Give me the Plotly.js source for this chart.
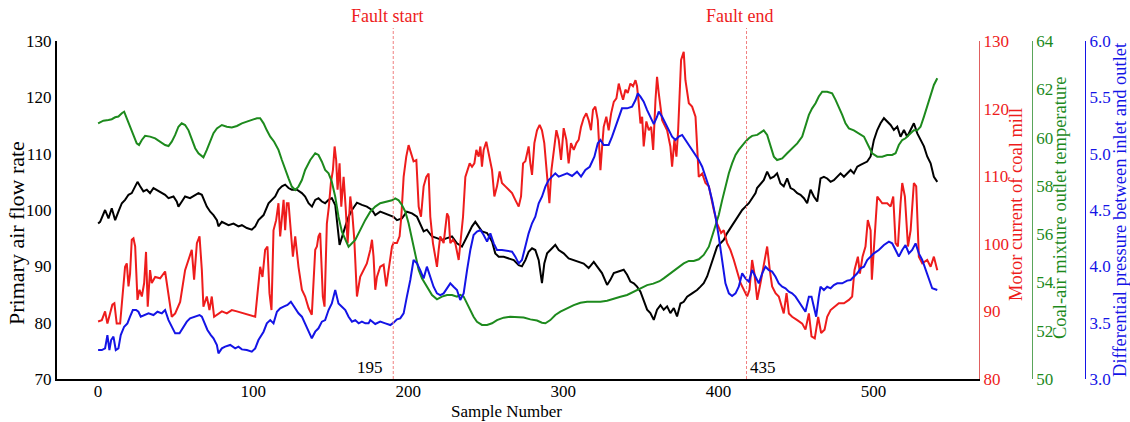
<!DOCTYPE html>
<html>
<head>
<meta charset="utf-8">
<script src="https://cdn.plot.ly/plotly-3.0.1.min.js"></script>
<style>
  html, body { margin: 0; padding: 0; background: #fff; }
  #chart { width: 1130px; height: 422px; }
</style>
</head>
<body>
<div id="chart"></div>
<script>
// ---- Data ----
const sampleBlack = [0,1.3,4.5,6.7,8.8,11,13.1,15.3,17.4,19.6,21.7,23.9,25.4,27.1,29.2,31.4,33.5,35.7,37.8,40,43.2,45.4,48.6,50.7,51.8,54,56.1,59.3,62.6,64.7,66.9,68.4,70.1,72.3,74.4,76.6,77.6,79.8,81.9,84.1,87.3,90.5,92.7,95.9,99.1,101.3,103.4,106.7,109.9,112,114.2,116.3,118.5,120.6,122.8,124.9,128.2,131.4,133.5,135.7,137.9,140,142.1,144.3,146.4,148.6,150.7,152.9,154.4,155.7,159.4,161.5,163.7,166.9,170.1,173.3,176.6,178.7,181.9,185.2,188.4,190.5,192.7,195.9,199.1,202.4,205.6,207.7,209.9,212,215.3,218.5,221.7,225,228.2,231.4,234.6,237.9,241.1,243.2,245.4,247.5,250.8,254,256.1,258.3,261.5,264.7,268,271.2,273.3,275.5,277.6,279.8,281.9,284.1,286.2,287.7,289.5,292.7,294.8,297,300.2,303.4,306.7,309.9,313.1,316.3,319.6,321.7,324.9,328.2,330.3,332.5,335.7,338.9,341.1,343.2,345.4,347.5,349.7,351.8,354,356.1,358.3,360.4,362.6,364.7,366.9,369,371.2,373.3,375.5,377.6,379.8,383,386.2,388.4,390.5,392.7,394.8,397,399.1,401.3,403.4,405.6,407.7,411,413.1,415.3,417.4,419.6,421.7,423.9,424.9,427.1,429.2,431.4,433.5,435.7,437.8,440,442.1,444.3,446.5,448.6,450.8,452.9,455.1,457.2,459.4,461.5,463.7,465.8,468,470.1,472.3,474.4,476.6,478.7,480.9,483,485.2,487.3,489.5,491.6,493.8,495.9,498.1,499.1,500.2,502.4,504.5,506.7,508.8,511,513.1,515.3,517.4,519.6,521.7,523.9,526,528.2,530.3,532.5,534.6,536.8,538.9,541.1];
const airFlow = [97.6,97.9,100.0,98.5,100.3,98.2,99.7,101.2,101.8,102.7,103.0,104.2,105.0,104.2,103.3,103.6,103.0,103.9,103.6,103.3,102.7,102.1,102.4,101.5,100.6,101.5,102.4,102.1,102.7,103.0,102.7,101.8,100.6,99.7,99.1,98.2,97.1,97.9,97.6,97.3,97.6,97.1,97.3,96.8,96.5,97.1,98.2,99.1,101.2,101.8,102.4,103.6,104.2,104.5,103.9,103.6,103.6,103.0,102.4,101.2,100.6,101.8,102.1,101.5,101.2,101.8,102.1,100.9,96.5,93.8,97.1,98.8,100.0,101.3,100.9,100.6,100.0,99.1,99.7,99.4,99.1,98.8,98.2,98.5,99.7,99.4,98.8,97.6,96.2,96.5,95.3,95.0,94.7,95.0,95.3,94.1,93.5,95.3,97.1,97.9,97.1,96.2,95.9,94.4,92.3,91.7,91.7,91.4,91.1,90.2,90.0,91.1,92.6,93.2,92.9,91.1,87.0,90.5,92.3,93.2,93.8,92.9,92.3,91.4,91.1,90.8,90.5,89.7,90.8,90.0,88.8,86.7,87.6,88.8,89.1,89.4,88.5,87.3,87.0,86.4,85.5,84.0,82.3,81.7,80.5,82.3,83.1,82.3,82.9,81.7,82.6,81.1,83.4,83.7,84.6,85.2,85.8,86.4,87.0,88.2,90.0,91.7,93.5,94.1,94.7,95.9,96.8,98.2,99.1,100.0,100.6,101.2,102.1,103.0,103.9,104.7,105.3,106.8,105.6,105.9,106.5,104.7,104.2,105.6,103.9,103.6,103.0,102.7,102.1,101.2,103.6,102.4,101.5,105.6,105.9,105.6,105.0,105.3,105.9,106.5,105.9,106.5,107.1,106.5,107.7,108.0,108.3,108.6,109.5,110.7,112.4,114.2,115.4,116.3,115.7,115.1,114.2,114.8,113.0,114.2,113.0,114.2,115.4,113.6,112.4,111.3,109.5,108.3,105.9,105.0];

const sampleRed = [0,2.4,4.5,6,7.7,9.2,10.5,12,14.2,15.9,17.4,18.5,19.6,20.6,21.7,22.8,23.9,25.4,26.7,28.2,29.7,30.9,32,33.5,34.6,36.8,40,43.2,45.4,47.5,49.7,52.9,56.1,58.3,60.4,61.9,63.7,65.4,66.9,67.9,70.1,71.8,73.3,74.8,76.6,79.8,83,86.2,89.5,93.8,98.1,101.3,102.8,104.5,106,107.7,109.2,110.5,111.8,113.1,114.8,116.3,117.4,118.5,119.6,120.6,121.7,122.8,124.3,125.6,127.1,129.2,131.4,133.5,135.7,137.8,140,141.1,142.1,143.2,144.9,146,147.5,148.8,150.1,151.4,152.5,153.5,154.4,155.7,156.8,158.3,159.6,160.9,162.6,163.9,165.2,166.9,169,171.2,173.3,175.5,176.6,177.6,178.7,179.8,181.9,184.1,185.8,187.3,188.4,189.5,190.5,192.7,194.4,195.5,197,198.7,200.2,201.7,203.4,205.2,206.7,208.2,209.9,211.6,213.1,214.2,215.9,217.4,218.5,219.6,220.6,222.8,225,226,227.1,228.8,230.3,232.5,233.5,235.3,236.8,238.3,239.6,241.1,242.6,243.9,245.4,246.5,247.5,248.6,250.3,251.8,254,255.5,257.2,258.9,260.4,262.6,264.7,266.9,269,271.2,272.7,274,275.5,277.6,278.7,279.8,281.3,283,284.7,286.2,287.7,289.5,291,292.3,293.8,295.5,297,298.5,300.2,301.9,303.4,304.9,306.7,308.4,309.9,311.4,313.1,314.8,316.3,317.8,319.1,320.6,322.2,323.9,325,326,327.7,329.2,330.8,332.5,334.2,335.7,337.2,338.5,340,341.5,343.2,344.9,346.5,347.5,348.6,349.7,350.8,351.8,353.5,355.1,356.6,357.9,359.4,360.4,361.5,363.7,366.9,369,370.1,371.6,372.9,374,375.9,377.6,378.7,380.9,383,385.2,387.3,389.5,391.6,393.8,397,399.1,401.7,403.4,405.6,407.7,409.9,412,414.2,417.4,418.5,420,421.7,423.2,425,427.1,429.2,431.4,433.1,434.6,436.8,438.9,442.1,443.9,445.4,447.5,450.8,454,456.1,458.3,460,462.1,464.3,466.2,468.4,470.1,472.3,474.8,477.6,480.9,484.1,486.2,487.7,489.9,491.2,492.9,494.8,496.3,498.1,498.9,502.4,505.6,508.8,511,512.7,514.2,515.7,517.4,518.5,520.2,522.2,523.9,526,527.5,529.2,531.4,534.6,536.8,538.9,541.1];
const motorCurrent = [88.5,88.7,90.0,88.2,89.7,91.0,91.2,88.2,88.2,93.2,96.6,97.1,93.7,95.6,100.6,100.8,99.6,91.7,93.2,92.2,94.2,98.8,90.7,96.1,94.2,95.1,94.9,95.9,92.2,89.2,89.7,91.4,96.1,97.6,99.1,94.7,100.1,101.1,96.1,90.7,92.2,90.2,92.2,89.2,89.5,90.0,89.7,90.2,90.0,89.7,89.5,89.2,92.7,96.6,95.1,99.1,99.6,92.7,90.2,102.0,103.5,106.0,101.1,104.0,106.5,102.0,106.0,106.0,101.6,98.1,101.1,96.6,93.2,92.2,90.5,89.5,99.1,99.6,101.1,101.6,92.2,90.7,103.0,105.5,109.0,110.9,114.4,112.4,108.0,111.9,105.5,109.9,105.5,100.1,107.0,104.5,100.6,92.2,95.1,96.1,97.1,99.1,100.6,98.1,93.2,95.1,96.6,96.9,93.7,96.1,98.1,99.6,100.1,100.1,101.1,104.0,109.9,112.9,114.6,113.4,112.2,112.4,105.5,104.0,108.5,109.9,110.4,104.0,100.1,98.1,96.6,99.1,101.1,100.1,104.5,104.0,100.1,100.6,100.1,97.6,99.6,104.0,109.9,110.9,111.9,111.4,111.9,113.9,112.9,114.4,111.4,113.9,115.1,113.4,110.9,107.0,108.5,110.7,109.0,108.5,108.0,107.5,106.5,105.5,107.0,111.9,112.2,114.4,111.9,110.2,114.9,116.8,117.6,116.8,114.9,109.9,106.0,110.9,113.9,116.8,115.4,112.4,117.1,115.4,111.9,114.9,113.9,114.9,115.4,117.3,118.6,119.3,118.3,116.8,119.8,120.3,118.3,110.9,114.4,117.3,118.8,116.8,119.3,121.0,121.5,123.7,122.3,121.3,122.8,122.3,123.7,123.3,124.2,123.3,120.8,117.8,118.8,114.4,118.1,116.8,117.3,113.9,121.3,124.7,122.3,118.3,116.8,114.4,111.4,115.4,112.9,116.8,127.2,128.4,124.2,120.8,120.3,118.8,109.9,110.4,109.0,108.5,105.0,103.0,101.6,102.0,100.1,99.1,97.6,96.1,94.2,92.7,92.2,93.2,97.6,95.6,91.7,94.2,96.6,99.6,96.1,93.7,92.7,92.2,89.7,92.7,89.7,89.2,88.7,88.2,87.3,89.7,86.3,86.0,89.2,86.8,87.3,89.2,90.2,90.7,91.2,91.2,91.7,92.2,96.1,98.1,95.6,98.1,99.6,103.5,102.0,94.7,107.0,106.0,106.0,105.5,107.0,100.1,99.6,106.0,109.0,107.0,99.6,102.0,109.0,108.5,98.1,97.1,97.6,96.6,98.1,96.1];

const sampleGreen = [0,3.4,6.7,8.8,11,13.1,15.3,16.8,18.5,20.6,22.8,24.9,26.4,28.2,30.3,33.5,36.8,40,43.2,45.4,47.5,49.7,51.8,53.9,56.1,58.3,60.4,62.6,64.7,66.9,67.9,70.1,72.3,74.4,76.6,79.8,83,86.2,89.5,92.7,95.9,99.1,102.4,104.5,106.7,108.8,111,113.5,116.3,118.5,120.6,122.8,124.9,127.1,129.2,131.4,133.5,136.8,140,142.1,144.3,146.4,148.6,150.7,152.9,155,157.2,159.4,161.5,165.8,169,172.3,175.5,178.7,181.9,186.2,189.5,191.6,193.8,195.9,198.1,200.2,202.4,204.5,206.7,208.8,212,215.3,218.5,221.7,225,228.2,231.4,233.5,235.7,237.9,240,242.1,244.3,247.5,250.8,254,257.2,261.5,265.8,270.1,274.4,278.7,283,286.2,288.4,291.6,294.8,298.1,302.4,306.7,311,315.3,319.6,323.9,328.2,332.5,336.8,341.1,345.4,349.7,354,358,362,364.7,369,373.3,377.6,380.9,384.1,387.3,390.5,393.8,395.9,398.1,400.2,402.4,404.5,406.7,408.8,411,413.1,415.3,417.4,419.6,421.7,425,427.1,429.2,431.4,433.5,435.7,437.8,441.1,444.3,447.5,450.8,454,456.1,458.3,460.4,462.6,464.7,466.9,470.1,473.3,475.5,477.6,479.8,481.9,484.1,487.3,490.5,493.8,497,499.1,502.4,505.6,508.8,512,514.2,516.3,518.5,520.6,523.9,526,528.2,530.3,532.5,534.6,536.8,538.9,541.1];
const mixtureTemp = [60.59,60.7,60.73,60.76,60.84,60.87,61.01,61.07,60.8,60.45,60.04,59.76,59.69,59.9,60.07,60.04,59.97,59.83,59.69,59.65,59.83,60.11,60.45,60.59,60.52,60.3,59.9,59.56,59.35,59.21,59.18,59.49,59.83,60.18,60.38,60.52,60.45,60.42,60.48,60.59,60.66,60.73,60.8,60.8,60.59,60.3,60.04,59.83,59.49,59.07,58.66,58.31,57.97,57.83,57.97,58.24,58.66,59.07,59.35,59.28,59.0,58.66,58.52,58.17,57.55,56.72,56.1,55.76,55.48,55.76,56.17,56.59,56.93,57.14,57.28,57.35,57.4,57.48,57.4,57.21,56.93,56.45,55.76,55.07,54.52,54.17,53.82,53.48,53.3,53.41,53.48,53.48,53.41,53.48,53.41,53.13,52.86,52.58,52.37,52.24,52.24,52.31,52.44,52.54,52.58,52.58,52.55,52.47,52.42,52.33,52.31,52.44,52.65,52.79,52.93,53.06,53.16,53.2,53.2,53.2,53.24,53.34,53.41,53.48,53.62,53.76,53.89,53.95,54.05,54.17,54.38,54.58,54.79,54.89,54.89,54.96,55.14,55.48,55.9,56.31,56.79,57.41,57.97,58.52,58.93,59.28,59.49,59.69,59.83,59.97,60.07,60.11,60.21,60.3,60.11,59.69,59.21,59.07,59.14,59.35,59.56,59.76,60.04,60.45,60.94,61.21,61.42,61.7,61.9,61.9,61.83,61.56,61.28,60.94,60.59,60.38,60.3,60.18,60.04,59.62,59.35,59.21,59.21,59.28,59.28,59.35,59.69,59.9,59.97,60.18,60.3,60.3,60.45,60.87,61.28,61.76,62.18,62.46];

const sampleBlue = [0,2.4,4.5,6,7.3,8.4,9.9,11.4,13.1,14.6,16.8,18.9,20.6,22.4,24.5,26,27.5,29.7,32.5,35.7,38.3,41.1,43.2,45.4,47.5,49.7,52.5,55,57.2,59.3,62.6,65.4,66.9,68.4,70.5,72.7,74.4,76.6,77.6,79.8,81.9,85.2,88.4,90.5,92.7,95.9,99.1,101.3,103.4,106.7,108.8,111,113.1,115.3,117.4,119.6,122.1,124.3,126.4,129.2,131.4,133.5,135.7,137.8,140,142.1,144.3,146.4,148.6,150.7,152.9,155,157.2,159.4,161.5,163.7,165.8,168,170.1,172.3,174.4,175.5,178.7,181.9,185.2,188.4,190.5,192.7,194.8,197,199.1,201.3,203.4,205.6,207.7,209.9,212,214.2,216.3,218.5,220.6,222.8,224.9,227.1,229.2,231.4,233.5,235.7,237.9,240,242.1,244.3,246.5,248.6,250.8,252.9,255.1,257.2,260.4,263.7,266.9,269,271.2,273.3,275.5,277.6,279.8,281.9,284.1,286.2,288.4,290.5,292.7,294.8,297,299.1,302.4,305.6,308.8,311.4,314.2,317,320,322.2,323.9,326,329.2,331.4,333.5,335.7,337.8,341.1,344.3,346.5,348,349.7,351.8,354,356.1,358.3,360.4,361.5,363.7,365.8,368,370.1,372.3,374.4,376.6,378.7,380.9,383,385.2,387.3,389.5,391.6,393.8,395.9,398.1,400.2,402.4,404.5,406.7,408.8,411,413.1,415.3,417.4,419.6,421.7,423.9,426,428.2,430.3,432.5,434.6,436.8,438.9,441.1,443.2,445.4,447.5,449.7,451.8,454,456.1,458.3,460,461.5,463,464.7,465.8,468,470.1,472.3,474.4,476.6,479.8,483,485.2,487.3,489.5,491.6,493.8,495.9,498.1,500.2,503.4,506.7,509.9,512,514.2,516.3,518.5,520.6,522.8,524.9,527.1,529.2,531.4,533.5,535.7,537.8,541.1];
const diffPressure = [3.257,3.257,3.272,3.39,3.257,3.346,3.376,3.257,3.272,3.39,3.464,3.494,3.553,3.612,3.612,3.597,3.553,3.568,3.583,3.568,3.597,3.583,3.612,3.523,3.464,3.405,3.405,3.464,3.509,3.538,3.553,3.568,3.553,3.509,3.435,3.39,3.361,3.302,3.228,3.272,3.287,3.302,3.272,3.287,3.263,3.257,3.243,3.272,3.346,3.42,3.494,3.523,3.494,3.597,3.627,3.642,3.657,3.686,3.642,3.583,3.553,3.494,3.435,3.361,3.42,3.45,3.509,3.523,3.612,3.671,3.79,3.671,3.642,3.612,3.553,3.509,3.523,3.494,3.509,3.494,3.494,3.523,3.488,3.509,3.494,3.479,3.5,3.529,3.538,3.583,3.731,3.879,4.056,4.026,3.967,3.893,3.997,3.908,3.819,3.76,3.745,3.76,3.805,3.849,3.819,3.79,3.701,3.76,3.967,4.145,4.278,4.308,4.322,4.278,4.219,4.293,4.204,4.145,4.145,4.139,4.13,4.086,4.026,4.056,4.174,4.293,4.382,4.441,4.559,4.618,4.707,4.766,4.796,4.825,4.796,4.81,4.825,4.802,4.84,4.796,4.855,4.884,4.973,5.092,5.121,5.077,5.077,5.151,5.24,5.328,5.402,5.402,5.417,5.476,5.535,5.506,5.461,5.387,5.328,5.262,5.328,5.373,5.328,5.269,5.21,5.151,5.121,5.151,5.166,5.121,5.077,5.032,4.988,4.944,4.884,4.796,4.707,4.589,4.441,4.263,4.026,3.849,3.76,3.737,3.76,3.819,3.938,3.893,3.864,3.967,3.908,3.849,3.938,3.997,3.967,3.953,3.908,3.849,3.819,3.805,3.775,3.76,3.731,3.686,3.642,3.597,3.731,3.731,3.642,3.553,3.731,3.819,3.79,3.819,3.805,3.834,3.849,3.849,3.873,3.879,3.908,3.938,3.982,3.997,4.056,4.086,4.115,4.145,4.189,4.219,4.204,4.145,4.086,4.145,4.189,4.115,4.145,4.204,4.115,4.056,3.967,3.893,3.805,3.79];

const xTicks = [0, 100, 200, 300, 400, 500];
const faultLineX = [190.3, 418.1];
const faultLabels = ["Fault start", "Fault end"];
const faultNumbers = ["195", "435"];

// ---- Styling ----
const FONT = '"Liberation Serif", "Times New Roman", serif';
const RED = "#ee1c1c", GREEN = "#1d8a1d", BLUE = "#1414e6";

const traces = [
  {x: sampleBlack, y: airFlow, type: "scatter", mode: "lines", line: {color: "#000000", width: 2}, yaxis: "y", name: "Primary air flow rate"},
  {x: sampleRed, y: motorCurrent, type: "scatter", mode: "lines", line: {color: RED, width: 2}, yaxis: "y2", name: "Motor current of coal mill"},
  {x: sampleGreen, y: mixtureTemp, type: "scatter", mode: "lines", line: {color: GREEN, width: 2}, yaxis: "y3", name: "Coal-air mixture outlet temperature"},
  {x: sampleBlue, y: diffPressure, type: "scatter", mode: "lines", line: {color: BLUE, width: 2}, yaxis: "y4", name: "Differential pressure between inlet and outlet"}
];

const tickFont = (c) => ({family: FONT, size: 17, color: c});
const baseY = {showgrid: false, zeroline: false, ticks: "", showline: true, fixedrange: true};

const layout = {
  width: 1130, height: 422,
  margin: {l: 57, r: 45, t: 41, b: 43, pad: 0},
  paper_bgcolor: "#ffffff", plot_bgcolor: "#ffffff",
  showlegend: false,
  font: {family: FONT, size: 17, color: "#000"},
  xaxis: {domain: [0, 0.8969], range: [-26.5, 568], tickvals: xTicks, ticks: "", showgrid: false, zeroline: false,
          showline: true, linecolor: "#000", linewidth: 2, tickfont: tickFont("#000"), anchor: "y", ticklabelstandoff: -4},
  yaxis: Object.assign({}, baseY, {range: [70, 130], dtick: 10, linecolor: "#000", linewidth: 2, tickfont: tickFont("#000")}),
  yaxis2: Object.assign({}, baseY, {overlaying: "y", side: "right", anchor: "x", range: [80, 130], dtick: 10,
          linecolor: "#e06060", linewidth: 1, tickfont: tickFont(RED)}),
  yaxis3: Object.assign({}, baseY, {overlaying: "y", side: "right", anchor: "free", position: 0.9484, range: [50, 64], dtick: 2,
          linecolor: "#5aa55a", linewidth: 1, tickfont: tickFont(GREEN)}),
  yaxis4: Object.assign({}, baseY, {overlaying: "y", side: "right", anchor: "free", position: 1.0, range: [3, 6], dtick: 0.5,
          tickformat: ".1f", linecolor: BLUE, linewidth: 1, tickfont: tickFont(BLUE)}),
  shapes: faultLineX.map(x => ({type: "line", xref: "x", yref: "paper", x0: x, x1: x, y0: 0, y1: 1.0385,
          line: {color: "#f08080", width: 1, dash: "3px,2px"}})),
  annotations: [
    {text: "Primary air flow rate", xref: "paper", yref: "paper", x: -0.0389, y: 0.432, textangle: -90, showarrow: false,
     font: {family: FONT, size: 22, color: "#000"}, xanchor: "center", yanchor: "middle"},
    {text: "Motor current of coal mill", xref: "paper", yref: "paper", x: 0.9329, y: 0.515, textangle: -90, showarrow: false,
     font: {family: FONT, size: 18.5, color: RED}, xanchor: "center", yanchor: "middle"},
    {text: "Coal-air mixture outlet temperature", xref: "paper", yref: "paper", x: 0.9757, y: 0.506, textangle: -90, showarrow: false,
     font: {family: FONT, size: 18.5, color: GREEN}, xanchor: "center", yanchor: "middle"},
    {text: "Differential pressure between inlet and outlet", xref: "paper", yref: "paper", x: 1.034, y: 0.503, textangle: -90, showarrow: false,
     font: {family: FONT, size: 18.5, color: BLUE}, xanchor: "center", yanchor: "middle"},
    {text: "Sample Number", xref: "paper", yref: "paper", x: 0.4368, y: -0.097, showarrow: false,
     font: {family: FONT, size: 17, color: "#000"}, xanchor: "center", yanchor: "middle"},
    {text: faultLabels[0], xref: "x", yref: "paper", x: 186.5, y: 1.074, showarrow: false,
     font: {family: FONT, size: 18, color: RED}, xanchor: "center", yanchor: "middle"},
    {text: faultLabels[1], xref: "x", yref: "paper", x: 414.2, y: 1.074, showarrow: false,
     font: {family: FONT, size: 18, color: RED}, xanchor: "center", yanchor: "middle"},
    {text: faultNumbers[0], xref: "x", yref: "paper", x: 175.5, y: 0.0355, showarrow: false,
     font: {family: FONT, size: 17, color: "#000"}, xanchor: "center", yanchor: "middle"},
    {text: faultNumbers[1], xref: "x", yref: "paper", x: 429, y: 0.0355, showarrow: false,
     font: {family: FONT, size: 17, color: "#000"}, xanchor: "center", yanchor: "middle"}
  ]
};

Plotly.newPlot("chart", traces, layout, {staticPlot: true, displayModeBar: false});
</script>
</body>
</html>
